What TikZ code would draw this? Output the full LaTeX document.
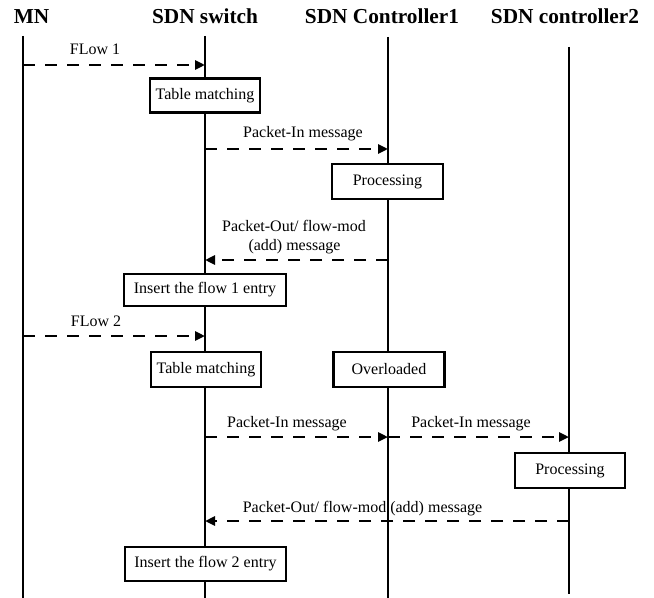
\documentclass[tikz,border=0pt]{standalone}
\usepackage{fontspec}
\setmainfont{Liberation Serif}
\usetikzlibrary{arrows.meta}
\tikzset{
  lifeline/.style={line width=2.2bp},
  msg/.style={line width=2.8bp, dash pattern=on 12bp off 10bp,
    -{Triangle[length=10bp,width=9bp]}},
  stepbox/.style={draw, line width=2.5bp, fill=white, inner sep=0pt,
    font=\fontsize{16bp}{18bp}\selectfont},
  lbl/.style={font=\fontsize{16bp}{19bp}\selectfont, inner sep=0pt, anchor=base},
  head/.style={font=\bfseries\fontsize{21.3bp}{24bp}\selectfont, inner sep=0pt, anchor=base}
}
\begin{document}
\begin{tikzpicture}[x=1bp,y=-1bp]
\useasboundingbox (0,0) rectangle (654,598);

% column headers
\node[head] (hmn)  at (31.5,24) {MN};
\node[head] (hsw)  at (205,24)  {SDN switch};
\node[head] (hc1)  at (382,24)  {SDN Controller1};
\node[head] (hc2)  at (565,24)  {SDN controller2};

% lifelines
\coordinate (mnT) at (23,36);   \coordinate (mnB) at (23,598);
\coordinate (swT) at (205,36);  \coordinate (swB) at (205,598);
\coordinate (c1T) at (388,37);  \coordinate (c1B) at (388,598);
\coordinate (c2T) at (569,47);  \coordinate (c2B) at (569,594);
\draw[lifeline] (mnT) -- (mnB);
\draw[lifeline] (swT) -- (swB);
\draw[lifeline] (c1T) -- (c1B);
\draw[lifeline] (c2T) -- (c2B);

% activity boxes
\node[stepbox, minimum width=110bp, minimum height=34bp] (tm1) at (205,95.5) {Table matching};
\node[stepbox, minimum width=111bp, minimum height=35bp] (pr1) at (387.5,181.5) {Processing};
\node[stepbox, minimum width=162bp, minimum height=32bp] (in1) at (205,290) {Insert the flow 1 entry};
\node[stepbox, minimum width=110bp, minimum height=35bp] (tm2) at (206,369.5) {Table matching};
\node[stepbox, minimum width=111bp, minimum height=35bp] (ov)  at (389,369.5) {Overloaded};
\node[stepbox, minimum width=110bp, minimum height=35bp] (pr2) at (570,470.5) {Processing};
\node[stepbox, minimum width=161bp, minimum height=34bp] (in2) at (205.5,564) {Insert the flow 2 entry};

% message end points on the lifelines
\coordinate (f1a) at (23,65);   \coordinate (f1b) at (205,65);
\coordinate (p1a) at (205,149); \coordinate (p1b) at (388,149);
\coordinate (o1a) at (388,260); \coordinate (o1b) at (205,260);
\coordinate (f2a) at (23,336);  \coordinate (f2b) at (205,336);
\coordinate (p2a) at (205,437); \coordinate (p2b) at (388,437);
\coordinate (p3a) at (388,437); \coordinate (p3b) at (569,437);
\coordinate (o2a) at (569,521); \coordinate (o2b) at (205,521);

% messages
\draw[msg] (f1a) -- (f1b);
\draw[msg] (p1a) -- (p1b);
\draw[msg] (o1a) -- (o1b);
\draw[msg] (f2a) -- (f2b);
\draw[msg] (p2a) -- (p2b);
\draw[msg] (p3a) -- (p3b);
\draw[msg] (o2a) -- (o2b);

% message labels
\node[lbl] (lf1)  at (95,55)    {FLow 1};
\node[lbl] (lp1)  at (303,138)  {Packet-In message};
\node[lbl] (lo1a) at (294,231)  {Packet-Out/ flow-mod};
\node[lbl] (lo1b) at (294.5,250) {(add) message};
\node[lbl] (lf2)  at (96,326)   {FLow 2};
\node[lbl] (lp2)  at (287,427)  {Packet-In message};
\node[lbl] (lp3)  at (471,427)  {Packet-In message};
\node[lbl] (lo2)  at (362.5,512) {Packet-Out/ flow-mod (add) message};
\end{tikzpicture}
\end{document}
